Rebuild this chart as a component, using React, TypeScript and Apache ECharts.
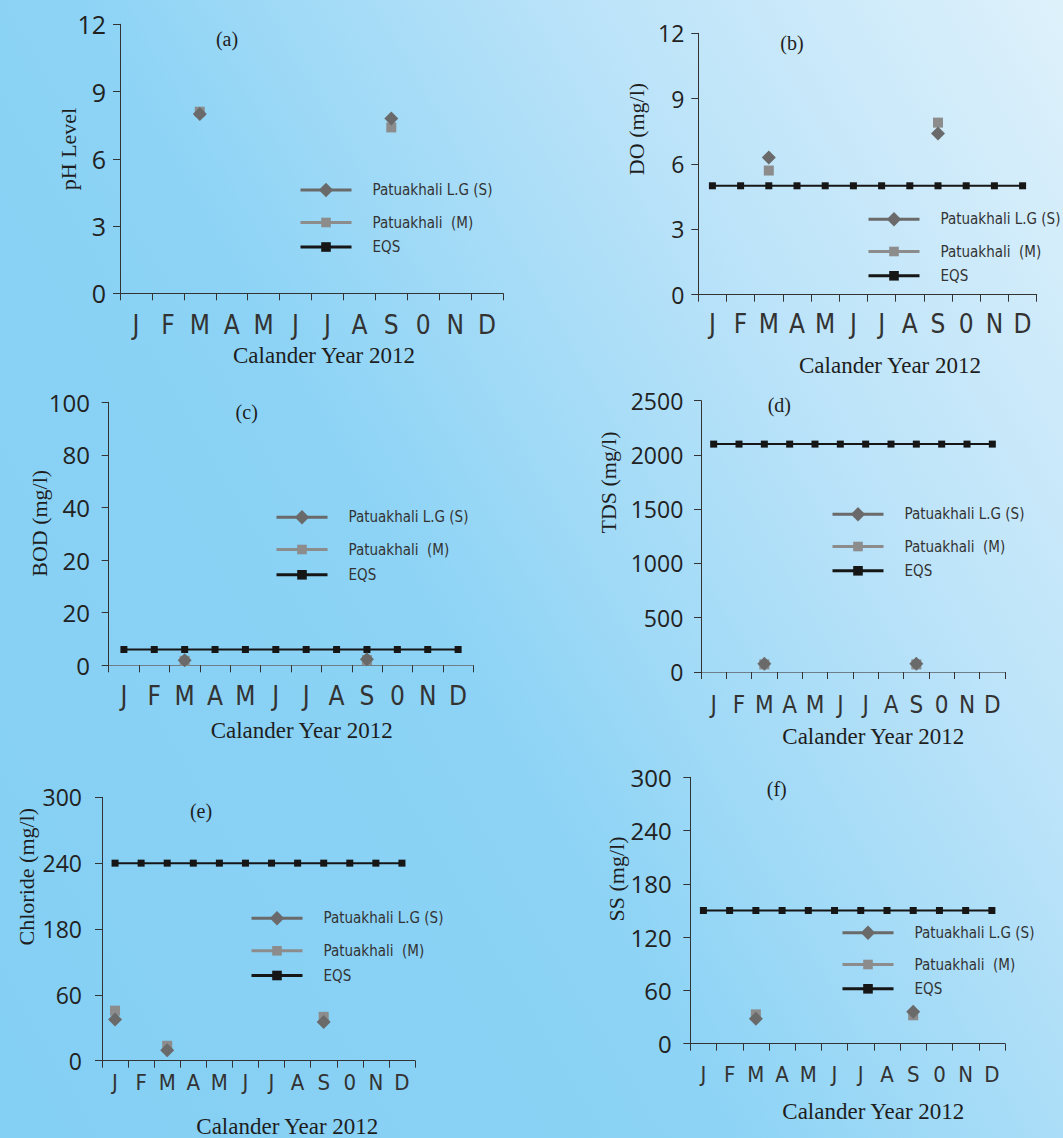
import React, { useEffect, useRef } from "react";
import * as echarts from "echarts";

// ---- data -------------------------------------------------------------
const months = ["J", "F", "M", "A", "M", "J", "J", "A", "S", "0", "N", "D"];
const seriesNames = ["Patuakhali L.G (S)", "Patuakhali  (M)", "EQS"];
const xTitle = "Calander Year 2012";

// (a) pH
const phLG = [null, null, 8.0, null, null, null, null, null, 7.8, null, null, null];
const phM = [null, null, 8.1, null, null, null, null, null, 7.4, null, null, null];

// (b) DO (mg/l)
const doLG = [null, null, 6.3, null, null, null, null, null, 7.4, null, null, null];
const doM = [null, null, 5.7, null, null, null, null, null, 7.9, null, null, null];
const doEQS = [5, 5, 5, 5, 5, 5, 5, 5, 5, 5, 5, 5];

// (c) BOD (mg/l) — printed tick labels as they appear on the axis
const bodLG = [null, null, 1.9, null, null, null, null, null, 2.3, null, null, null];
const bodM = [null, null, 1.7, null, null, null, null, null, 2.0, null, null, null];
const bodEQS = [6, 6, 6, 6, 6, 6, 6, 6, 6, 6, 6, 6];
const bodTickLabels = ["0", "20", "20", "40", "80", "100"];

// (d) TDS (mg/l)
const tdsLG = [null, null, 75, null, null, null, null, null, 75, null, null, null];
const tdsM = [null, null, 70, null, null, null, null, null, 70, null, null, null];
const tdsEQS = [2100, 2100, 2100, 2100, 2100, 2100, 2100, 2100, 2100, 2100, 2100, 2100];

// (e) Chloride (mg/l) — printed tick labels as they appear on the axis
const clLG = [47, null, 12, null, null, null, null, null, 44, null, null, null];
const clM = [57, null, 17, null, null, null, null, null, 50, null, null, null];
const clEQS = [225, 225, 225, 225, 225, 225, 225, 225, 225, 225, 225, 225];
const clTickLabels = ["0", "60", "180", "240", "300"];

// (f) SS (mg/l)
const ssLG = [null, null, 28, null, null, null, null, null, 36, null, null, null];
const ssM = [null, null, 33, null, null, null, null, null, 32, null, null, null];
const ssEQS = [150, 150, 150, 150, 150, 150, 150, 150, 150, 150, 150, 150];

const panelData = [
  { tag: "(a)", yTitle: "pH Level", max: 12, interval: 3, ticks: null, lg: phLG, m: phM, eqs: null },
  { tag: "(b)", yTitle: "DO (mg/l)", max: 12, interval: 3, ticks: null, lg: doLG, m: doM, eqs: doEQS },
  { tag: "(c)", yTitle: "BOD (mg/l)", max: 100, interval: 20, ticks: bodTickLabels, lg: bodLG, m: bodM, eqs: bodEQS },
  { tag: "(d)", yTitle: "TDS (mg/l)", max: 2500, interval: 500, ticks: null, lg: tdsLG, m: tdsM, eqs: tdsEQS },
  { tag: "(e)", yTitle: "Chloride (mg/l)", max: 300, interval: 75, ticks: clTickLabels, lg: clLG, m: clM, eqs: clEQS },
  { tag: "(f)", yTitle: "SS (mg/l)", max: 300, interval: 60, ticks: null, lg: ssLG, m: ssM, eqs: ssEQS },
];

// ---- layout -----------------------------------------------------------
const layout = [
  { left: 120, top: 24.3, right: 503, bottom: 293.3, yLM: 14, yLS: 25, xLS: 26, xLM: 19, xAxisColor: "#333", legendLeft: 299, rows: [190, 221, 245.5], tagPos: [227, 39], yNamePos: [68, 149], xNamePos: [324, 355] },
  { left: 698.3, top: 33.3, right: 1036.7, bottom: 294.7, yLM: 14, yLS: 23, xLS: 26, xLM: 16, xAxisColor: "#333", legendLeft: 867, rows: [219.3, 250, 274.3], tagPos: [792, 43], yNamePos: [636.7, 129], xNamePos: [890, 365] },
  { left: 108.7, top: 402.3, right: 473.3, bottom: 665.3, yLM: 18.7, yLS: 24, xLS: 26, xLM: 18, xAxisColor: "#6f7f8a", legendLeft: 275, rows: [517.3, 548, 573.3], tagPos: [246.7, 411.7], yNamePos: [39.3, 523.3], xNamePos: [301.7, 730.7] },
  { left: 701, top: 400.7, right: 1005, bottom: 672, yLM: 17.7, yLS: 23, xLS: 24, xLM: 21, xAxisColor: "#6f7f8a", legendLeft: 831, rows: [514.3, 545, 569.3], tagPos: [779.3, 405], yNamePos: [608.3, 482.5], xNamePos: [873.3, 736.7] },
  { left: 102, top: 797.3, right: 415, bottom: 1060.7, yLM: 20, yLS: 23, xLS: 22, xLM: 11, xAxisColor: "#333", legendLeft: 250, rows: [918.3, 949.3, 974], tagPos: [201, 810.7], yNamePos: [26.7, 876.7], xNamePos: [287.3, 1126] },
  { left: 690.3, top: 777.3, right: 1005, bottom: 1043.7, yLM: 18.6, yLS: 24, xLS: 22, xLM: 20, xAxisColor: "#333", legendLeft: 841, rows: [932.7, 963, 987.3], tagPos: [776.7, 789.3], yNamePos: [616, 879], xNamePos: [873.3, 1111.7] },
];

const FONT_NARROW = '"Noto Sans Condensed Light", "Noto Sans Condensed", "Liberation Sans Narrow", "DejaVu Sans Condensed", sans-serif';
const FONT_LEGEND = '"DejaVu Sans Condensed", "Liberation Sans Narrow", sans-serif';
const FONT_TICK = '"Open Sans", "Noto Sans", sans-serif';
const FONT_SERIF = '"Liberation Serif", "Times New Roman", serif';

const COLOR_LG = "#6a6a6a";
const COLOR_M = "#8c8c8c";
const COLOR_EQS = "#161616";

function buildOption() {
  const grid: any[] = [];
  const xAxis: any[] = [];
  const yAxis: any[] = [];
  const series: any[] = [];
  const legend: any[] = [];
  const graphic: any[] = [];

  panelData.forEach((p, i) => {
    const L = layout[i];
    grid.push({
      left: L.left,
      top: L.top,
      width: L.right - L.left,
      height: L.bottom - L.top,
      outerBoundsMode: "none",
      containLabel: false,
    });
    xAxis.push({
      type: "category",
      gridIndex: i,
      data: months,
      boundaryGap: true,
      axisLine: { show: true, lineStyle: { color: L.xAxisColor, width: 1 } },
      axisTick: { show: true, length: 7, lineStyle: { color: "#333", width: 1 } },
      axisLabel: {
        show: true,
        interval: 0,
        margin: L.xLM,
        fontFamily: FONT_NARROW,
        fontSize: L.xLS,
        color: "#333",
      },
      splitLine: { show: false },
    });
    yAxis.push({
      type: "value",
      gridIndex: i,
      min: 0,
      max: p.max,
      interval: p.interval,
      axisLine: { show: true, lineStyle: { color: "#333", width: 1 } },
      axisTick: { show: true, length: 7, lineStyle: { color: "#333", width: 1 } },
      axisLabel: {
        show: true,
        margin: L.yLM,
        fontFamily: FONT_TICK,
        fontSize: L.yLS,
        color: "#222",
        formatter: p.ticks
          ? (v: number) => p.ticks![Math.round(v / p.interval)] ?? ""
          : (v: number) => String(v),
      },
      splitLine: { show: false },
    });

    if (p.eqs) {
      series.push({
        type: "line",
        name: seriesNames[2],
        xAxisIndex: i,
        yAxisIndex: i,
        data: p.eqs,
        symbol: "rect",
        symbolSize: 7,
        showAllSymbol: true,
        lineStyle: { color: COLOR_EQS, width: 2 },
        itemStyle: { color: COLOR_EQS },
        z: 2,
      });
    }
    series.push({
      type: "line",
      name: seriesNames[1],
      xAxisIndex: i,
      yAxisIndex: i,
      data: p.m,
      symbol: "rect",
      symbolSize: 10,
      showAllSymbol: true,
      connectNulls: false,
      lineStyle: { color: COLOR_M, width: 3 },
      itemStyle: { color: COLOR_M },
      z: 3,
    });
    series.push({
      type: "line",
      name: seriesNames[0],
      xAxisIndex: i,
      yAxisIndex: i,
      data: p.lg,
      symbol: "diamond",
      symbolSize: 14,
      showAllSymbol: true,
      connectNulls: false,
      lineStyle: { color: COLOR_LG, width: 3 },
      itemStyle: { color: COLOR_LG },
      z: 4,
    });

    // one legend block per row so the row spacing can follow the layout
    seriesNames.forEach((name, r) => {
      const h = r === 0 ? 18 : 12;
      legend.push({
        data: [name],
        left: L.legendLeft,
        top: L.rows[r] - h / 2,
        orient: "vertical",
        padding: 0,
        itemWidth: 51,
        itemHeight: h,
        selectedMode: false,
        lineStyle: { width: 3 },
        textStyle: {
          fontFamily: FONT_LEGEND,
          fontSize: 15,
          color: "#333",
          lineHeight: h,
          padding: [0, 0, 0, 16],
        },
      });
    });

    graphic.push({
      type: "text",
      x: L.tagPos[0],
      y: L.tagPos[1],
      style: { text: p.tag, fontFamily: FONT_SERIF, fontSize: 20, fill: "#1e1e1e", align: "center", verticalAlign: "middle" },
    });
    graphic.push({
      type: "text",
      x: L.yNamePos[0],
      y: L.yNamePos[1],
      rotation: Math.PI / 2,
      style: { text: p.yTitle, fontFamily: FONT_SERIF, fontSize: 22, fill: "#1e1e1e", align: "center", verticalAlign: "middle" },
    });
    graphic.push({
      type: "text",
      x: L.xNamePos[0],
      y: L.xNamePos[1],
      style: { text: xTitle, fontFamily: FONT_SERIF, fontSize: 23, fill: "#1e1e1e", align: "center", verticalAlign: "middle" },
    });
  });

  return {
    animation: false,
    grid,
    xAxis,
    yAxis,
    series,
    legend,
    graphic,
  };
}

export default function App() {
  const ref = useRef<HTMLDivElement | null>(null);
  useEffect(() => {
    if (!ref.current) return;
    const chart = echarts.init(ref.current, undefined, { renderer: "svg" });
    chart.setOption(buildOption() as any);
    return () => chart.dispose();
  }, []);
  return (
    <div
      ref={ref}
      style={{
        position: "absolute",
        left: 0,
        top: 0,
        width: 1063,
        height: 1138,
        background:
          "linear-gradient(60deg, #84cff4 0%, #8cd3f5 42%, #bbe3f9 72%, #def1fb 100%)",
      }}
    />
  );
}
